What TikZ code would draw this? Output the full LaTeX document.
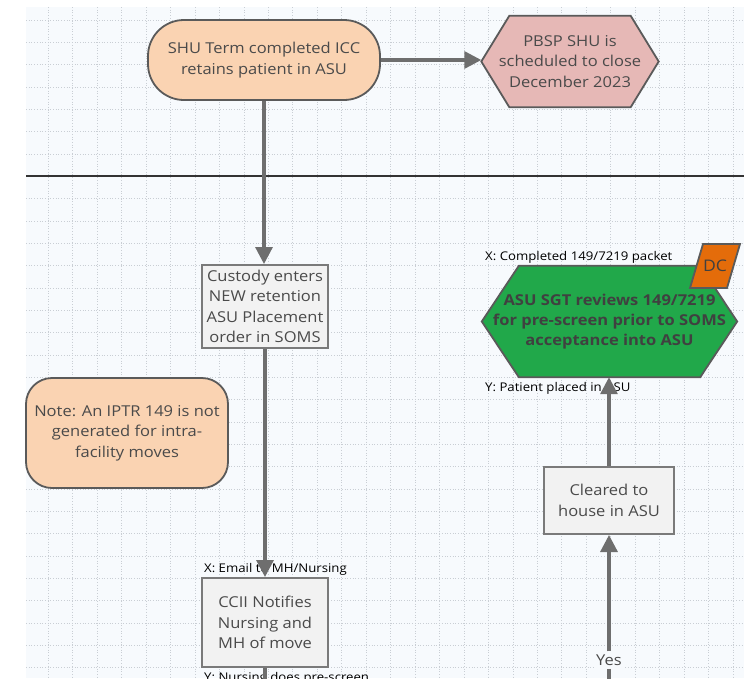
\documentclass[tikz,border=0pt]{standalone}
\usepackage{fontspec}
\setmainfont{Open Sans}[FakeStretch=1.1]
\usetikzlibrary{arrows.meta}
\pgfdeclarelayer{gridlayer}
\pgfdeclarelayer{shapes}
\pgfsetlayers{gridlayer,shapes,main}
\definecolor{gridbg}{HTML}{F7FAFD}
\definecolor{gridln}{HTML}{C9CED4}
\definecolor{peach}{HTML}{FAD3B2}
\definecolor{pinkhex}{HTML}{E6B8B6}
\definecolor{greenhex}{HTML}{21A84A}
\definecolor{dcorange}{HTML}{E46C0A}
\definecolor{boxgray}{HTML}{F2F2F2}
\definecolor{edgedark}{HTML}{5A5A5A}
\definecolor{edgegray}{HTML}{7A7A7A}
\definecolor{arrowgray}{HTML}{6E6E6E}
\definecolor{txt}{HTML}{4A4A4A}
\tikzset{
  maintext/.style={font=\fontsize{15}{20.5}\selectfont, text=txt, align=center, inner sep=0pt},
  stadium/.style={maintext, draw=edgedark, line width=1.8pt, fill=peach, rounded corners=36pt},
  notebox/.style={maintext, draw=edgedark, line width=1.8pt, fill=peach, rounded corners=26pt},
  procbox/.style={maintext, draw=edgegray, line width=2pt, fill=boxgray},
  hexnode/.style={maintext},
  smalllabel/.style={font=\fontsize{12}{14}\selectfont, text=black, inner sep=0pt},
  conn/.style={draw=arrowgray, line width=3.2pt},
  arr/.style={conn, -{Triangle[length=17pt,width=17pt]}},
  hexedge/.style={draw=edgedark, line width=1.8pt, line join=miter},
}
\begin{document}
\begin{tikzpicture}[x=1pt,y=-1pt]
\useasboundingbox (0,0) rectangle (744,678);
\clip (0,0) rectangle (744,678);
% background grid
\begin{pgfonlayer}{gridlayer}
\fill[white] (0,0) rectangle (744,678);
\fill[gridbg] (26,7) rectangle (744,678);
\foreach \i in {0,...,28} {
  \draw[gridln, dotted, line width=0.7pt] ({48.3+24.45*\i},7) -- ({48.3+24.45*\i},678);
}
\foreach \j in {0,...,29} {
  \draw[gridln, dotted, line width=0.7pt] (26,{20+22.33*\j}) -- (744,{20+22.33*\j});
}
% lane separator
\draw[line width=2pt, black!80] (26,176) -- (744,176);
\end{pgfonlayer}

% nodes
\node[stadium, minimum width=232pt, minimum height=80pt] (st) at (264,60)
  {SHU Term completed ICC\\retains patient in ASU};
\node[hexnode, minimum width=177pt, minimum height=91pt] (pb) at (570,61.5)
  {PBSP SHU is\\scheduled to close\\December 2023};
\node[procbox, minimum width=126pt, minimum height=83pt] (cust) at (265,306.5)
  {Custody enters\\NEW retention\\ASU Placement\\order in SOMS};
\node[notebox, minimum width=202pt, minimum height=110pt] (note) at (127,433)
  {Note: An IPTR 149 is not\\generated for intra-\\facility moves};
\node[procbox, minimum width=126pt, minimum height=89pt] (ccii) at (265,622.5)
  {CCII Notifies\\Nursing and\\MH of move};
\node[hexnode, minimum width=255pt, minimum height=111pt, font=\fontsize{15}{20}\selectfont\bfseries, text=black!75] (sgt) at (609.5,321.5)
  {ASU SGT reviews 149/7219\\for pre-screen prior to SOMS\\acceptance into ASU};
\node[procbox, minimum width=130pt, minimum height=67pt] (clr) at (609,500.5)
  {Cleared to\\house in ASU};
\node[maintext, fill=gridbg, inner ysep=3pt, inner xsep=2pt] (yes) at (609,660) {Yes};

% labels
\node[smalllabel, anchor=west] (lx1) at (485,257) {X: Completed 149/7219 packet};
\node[smalllabel, anchor=west] (ly1) at (485,388) {Y: Patient placed in ASU};
\node[smalllabel, anchor=west] (lx2) at (204,569) {X: Email to MH/Nursing};
\node[smalllabel, anchor=base west] (ly2) at (204,681) {Y: Nursing does pre-screen};

% shapes behind text
\begin{pgfonlayer}{shapes}
\draw[hexedge, fill=pinkhex] (pb.west) -- ([xshift=28pt]pb.north west) -- ([xshift=-28pt]pb.north east)
  -- (pb.east) -- ([xshift=-28pt]pb.south east) -- ([xshift=28pt]pb.south west) -- cycle;
\draw[hexedge, fill=greenhex] (sgt.west) -- ([xshift=37pt]sgt.north west) -- ([xshift=-37pt]sgt.north east)
  -- (sgt.east) -- ([xshift=-37pt]sgt.south east) -- ([xshift=37pt]sgt.south west) -- cycle;
\end{pgfonlayer}
\coordinate (dcc) at (715,266);
\draw[hexedge, fill=dcorange] ([shift={(-12,-22)}]dcc) -- ([shift={(25,-22)}]dcc)
  -- ([shift={(12,22)}]dcc) -- ([shift={(-25,22)}]dcc) -- cycle;
\node[maintext, font=\fontsize{16}{20}\selectfont, text=black!75] (dc) at (dcc) {DC};

% connectors
\coordinate (ccend) at (265,700);
\coordinate (yesend) at (609,700);
\draw[arr] (st.east) -- (st.east -| pb.west);
\draw[arr] (st.south) -- (st.south |- cust.north);
\draw[arr] (cust.south) -- (cust.south |- ccii.north);
\draw[conn] (ccii.south) -- (ccend);
\draw[conn] (yesend) -- (yes.south);
\draw[arr] (yes.north) -- (clr.south);
\draw[arr] (clr.north) -- (clr.north |- sgt.south);
\end{tikzpicture}
\end{document}
